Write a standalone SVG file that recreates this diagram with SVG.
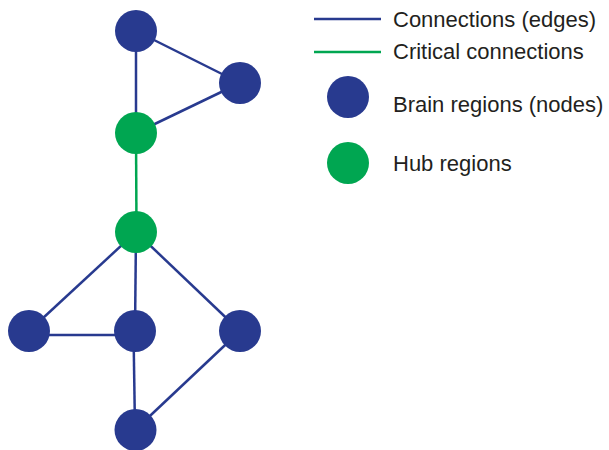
<svg xmlns="http://www.w3.org/2000/svg" width="609" height="450" viewBox="0 0 609 450">
<style>
.e{stroke:#283A8F;stroke-width:2.5;fill:none}
.c{stroke:#00A651;stroke-width:2.5;fill:none}
.b{fill:#283A8F}
.h{fill:#00A651}
.t{font-family:"Liberation Sans",Arial,sans-serif;font-size:22px;fill:#231F20}
</style>
<rect width="609" height="450" fill="#fff"/>
<g id="connectors">
<line class="e" x1="136" y1="31" x2="240" y2="83"/>
<line class="e" x1="136" y1="31" x2="136" y2="133"/>
<line class="e" x1="240" y1="83" x2="136" y2="133"/>
<line class="c" x1="136" y1="133" x2="136.5" y2="232"/>
<line class="e" x1="136" y1="232" x2="29" y2="331"/>
<line class="e" x1="136" y1="232" x2="135" y2="331"/>
<line class="e" x1="136" y1="232" x2="240" y2="331"/>
<line class="e" x1="29" y1="335" x2="135" y2="335"/>
<line class="e" x1="133.5" y1="331" x2="135" y2="430"/>
<line class="e" x1="240" y1="331" x2="135" y2="430"/>
</g>
<g id="n1"><circle class="b" cx="136" cy="31" r="21"/></g>
<g id="n2"><circle class="b" cx="240" cy="83" r="21"/></g>
<g id="n3"><circle class="h" cx="136" cy="133" r="21"/></g>
<g id="n4"><circle class="h" cx="136" cy="232" r="21"/></g>
<g id="n5"><circle class="b" cx="29" cy="331" r="21"/></g>
<g id="n6"><circle class="b" cx="135" cy="331" r="21"/></g>
<g id="n7"><circle class="b" cx="240" cy="331" r="21"/></g>
<g id="n8"><circle class="b" cx="135.5" cy="430" r="21"/></g>
<g id="legend">
<line class="e" x1="314" y1="19" x2="381" y2="19"/>
<text class="t" x="393" y="27">Connections (edges)</text>
<line class="c" x1="314" y1="52" x2="381" y2="52"/>
<text class="t" x="393" y="59">Critical connections</text>
<circle class="b" cx="348" cy="97" r="21"/>
<text class="t" x="393" y="112">Brain regions (nodes)</text>
<circle class="h" cx="348" cy="163" r="21"/>
<text class="t" x="393" y="170.5">Hub regions</text>
</g>
</svg>
